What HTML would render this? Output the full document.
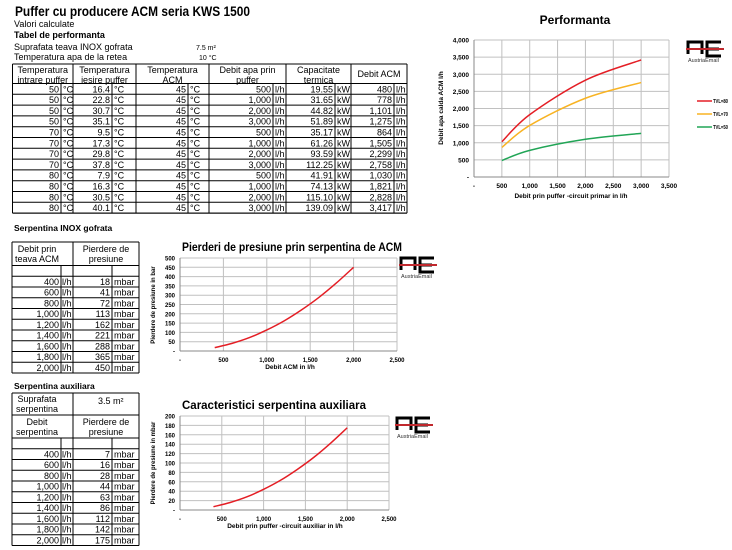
<!DOCTYPE html><html><head><meta charset="utf-8"><style>body{margin:0;background:#fff}svg{display:block;font-family:"Liberation Sans",Arial,sans-serif}</style></head><body>
<svg id="s" width="732" height="550" xmlns="http://www.w3.org/2000/svg"></svg>
<script>
var S=document.getElementById('s'),NS='http://www.w3.org/2000/svg';
function el(n,a,t){var e=document.createElementNS(NS,n);for(var k in a)e.setAttribute(k,a[k]);if(t!==undefined)e.textContent=t;S.appendChild(e);return e}
function T(x,y,t,sz,o){o=o||{};var a={x:x,y:y,'font-size':sz||9,fill:o.fill||'#000'};if(o.b)a['font-weight']='bold';if(o.a)a['text-anchor']=o.a;if(o.tl){a.textLength=o.tl;a.lengthAdjust='spacingAndGlyphs'}return el('text',a,t)}
function L(x1,y1,x2,y2,c,w){el('line',{x1:x1,y1:y1,x2:x2,y2:y2,stroke:c||'#000','stroke-width':w||1})}
function fmt(n){return n.toString().replace(/\B(?=(\d{3})+(?!\d))/g,',')}
T(15,16,'Puffer cu producere ACM seria KWS 1500',13.5,{b:1,tl:235});
T(14,27,'Valori calculate',9);
T(14,38,'Tabel  de performanta',9,{b:1});
T(14,50,'Suprafata teava INOX gofrata',9);
T(196,50,'7.5  m²',7);
T(14,60,'Temperatura apa de la retea',9);
T(199,60,'10  °C',7);
var B=[12.5,61,73,112,136,188,209,273,286,335,351,394,407];
var rows=[[50,16.4,45,500,'19.55',480],[50,22.8,45,1000,'31.65',778],[50,30.7,45,2000,'44.82',1101],[50,35.1,45,3000,'51.89',1275],[70,9.5,45,500,'35.17',864],[70,17.3,45,1000,'61.26',1505],[70,29.8,45,2000,'93.59',2299],[70,37.8,45,3000,'112.25',2758],[80,7.9,45,500,'41.91',1030],[80,16.3,45,1000,'74.13',1821],[80,30.5,45,2000,'115.10',2828],[80,40.1,45,3000,'139.09',3417]];
var units=['°C','°C','°C','l/h','kW','l/h'];
var y0=64,yh=83.5,rh=10.8,yb=yh+12*rh;
L(B[0],y0,B[12],y0);L(B[0],yb,B[12],yb);
for(var i=0;i<=12;i++){if(i%2==0)L(B[i],y0,B[i],yb);else L(B[i],yh,B[i],yb)}
for(var r=0;r<=12;r++)L(B[0],yh+r*rh,B[12],yh+r*rh);
var H=[['Temperatura','intrare puffer'],['Temperatura','iesire puffer'],['Temperatura','ACM'],['Debit apa prin','puffer'],['Capacitate','termica'],['Debit ACM']];
for(var c=0;c<6;c++){var cx=(B[2*c]+B[2*c+2])/2;if(H[c].length==2){T(cx,73,H[c][0],9,{a:'middle'});T(cx,83,H[c][1],9,{a:'middle'})}else T(cx,77,H[c][0],9,{a:'middle'})}
rows.forEach(function(rw,r){var y=yh+(r+1)*rh-2;rw.forEach(function(v,c){var s=(c==3||c==5)?fmt(v):(c==1?v.toFixed(1):String(v));T(B[2*c+1]-2,y,s,9,{a:'end'});T(B[2*c+1]+2,y,units[c],9)})});
function smallTable(top,hdrRows,blankTop,data){
 var rt=blankTop+10.7,rh=10.75,bot=rt+9*rh;
 L(12,top,139,top);L(12,bot,139,bot);L(12,top,12,bot);L(139,top,139,bot);L(73,top,73,bot);
 L(61,blankTop,61,bot);L(112,blankTop,112,bot);
 hdrRows.forEach(function(h){L(12,h,139,h)});L(12,blankTop,139,blankTop);
 for(var i=0;i<=9;i++)L(12,rt+i*rh,139,rt+i*rh);
 data.forEach(function(d,i){var y=rt+(i+1)*rh-2;T(59,y,fmt(d[0]),9,{a:'end'});T(62,y,'l/h',9);T(110,y,String(d[1]),9,{a:'end'});T(114,y,'mbar',9)});
}
T(14,231,'Serpentina INOX gofrata',8.5,{b:1});
var d2=[[400,18],[600,41],[800,72],[1000,113],[1200,162],[1400,221],[1600,288],[1800,365],[2000,450]];
smallTable(242,[],265.5,d2);
T(37,252,'Debit prin',9,{a:'middle'});T(37,262,'teava ACM',9,{a:'middle'});
T(106,252,'Pierdere de',9,{a:'middle'});T(106,262,'presiune',9,{a:'middle'});
T(14,389,'Serpentina auxiliara',8.5,{b:1});
var d3=[[400,7],[600,16],[800,28],[1000,44],[1200,63],[1400,86],[1600,112],[1800,142],[2000,175]];
smallTable(393,[415],438,d3);
T(37,402,'Suprafata',9,{a:'middle'});T(37,412,'serpentina',9,{a:'middle'});
T(98,404,'3.5  m²',9);
T(37,425,'Debit',9,{a:'middle'});T(37,435,'serpentina',9,{a:'middle'});
T(106,425,'Pierdere de',9,{a:'middle'});T(106,435,'presiune',9,{a:'middle'});
function path(pts,px,py,col){
 var P=pts.map(function(p){return [px(p[0]),py(p[1])]});var d='M'+P[0][0]+','+P[0][1];
 for(var i=0;i<P.length-1;i++){var p0=P[i-1]||P[i],p1=P[i],p2=P[i+1],p3=P[i+2]||p2;
  d+=' C'+(p1[0]+(p2[0]-p0[0])/6)+','+(p1[1]+(p2[1]-p0[1])/6)+' '+(p2[0]-(p3[0]-p1[0])/6)+','+(p2[1]-(p3[1]-p1[1])/6)+' '+p2[0]+','+p2[1]}
 el('path',{d:d,fill:'none',stroke:col,'stroke-width':1.5});
}
function grid(x0,x1,y0,y1,xs,ys,fs){
 for(var i=0;i<xs.length;i++){var x=x0+(x1-x0)*i/(xs.length-1);L(x,y0,x,y1,'#c0c0c0');T(x,y1+11,xs[i],fs,{a:'middle',b:1})}
 for(var j=0;j<ys.length;j++){var y=y1-(y1-y0)*j/(ys.length-1);L(x0,y,x1,y,'#c0c0c0');T(x0-5,y+2.5,ys[j],fs,{a:'end',b:1})}
 L(x0,y0,x0,y1,'#888');L(x0,y1,x1,y1,'#888');
}
function logo(x,y){el('rect',{x:x,y:y,width:14,height:14,fill:'none',stroke:'#000','stroke-width':3});el('rect',{x:x-1.5,y:y+12,width:17,height:4,fill:'#fff'});
 el('path',{d:'M'+(x+33)+','+y+' h-14 v14 h14 M'+(x+19)+','+(y+7)+' h12',fill:'none',stroke:'#000','stroke-width':3});
 L(x-2,y+7,x+36,y+7,'#c0282d',2);T(x,y+20,'AustriaEmail',5.5,{fill:'#333'})}
T(575,24,'Performanta',12,{a:'middle',b:1});
grid(474,669,40,177,['-','500','1,000','1,500','2,000','2,500','3,000','3,500'],['-','500','1,000','1,500','2,000','2,500','3,000','3,500','4,000'],6.5);
var px1=function(x){return 474+x/3500*195},py1=function(y){return 177-y/4000*137};
path([[500,1030],[1000,1821],[2000,2828],[3000,3417]],px1,py1,'#e41e25');
path([[500,864],[1000,1505],[2000,2299],[3000,2758]],px1,py1,'#f8b323');
path([[500,480],[1000,778],[2000,1101],[3000,1275]],px1,py1,'#21a556');
T(571,198,'Debit prin puffer -circuit primar in l/h',6.5,{a:'middle',b:1});
var t=T(0,0,'Debit apa calda ACM l/h',6.5,{a:'middle',b:1});t.setAttribute('transform','translate(443,108) rotate(-90)');
[['#e41e25','TVL=80',101],['#f8b323','TVL=70',114],['#21a556','TVL=50',127]].forEach(function(l){L(697,l[2],712,l[2],l[0],1.5);T(713,l[2]+2,l[1],5.5,{b:1,tl:15})});
logo(688,42);
T(292,251,'Pierderi de presiune prin serpentina de ACM',11.5,{a:'middle',b:1,tl:220});
grid(180,397,258,351,['-','500','1,000','1,500','2,000','2,500'],['-','50','100','150','200','250','300','350','400','450','500'],6);
var px2=function(x){return 180+x/2500*217},py2=function(y){return 351-y/500*93};
path(d2,px2,py2,'#e41e25');
T(290,369,'Debit ACM in l/h',6.5,{a:'middle',b:1});
t=T(0,0,'Pierdere de presiune in bar',6,{a:'middle',b:1});t.setAttribute('transform','translate(155,305) rotate(-90)');
logo(401,258);
T(274,409,'Caracteristici serpentina auxiliara',11.5,{a:'middle',b:1,tl:184});
grid(180,389,416,510,['-','500','1,000','1,500','2,000','2,500'],['-','20','40','60','80','100','120','140','160','180','200'],6);
var px3=function(x){return 180+x/2500*209},py3=function(y){return 510-y/200*94};
path(d3,px3,py3,'#e41e25');
T(285,528,'Debit prin puffer -circuit auxiliar in l/h',6.5,{a:'middle',b:1});
t=T(0,0,'Pierdere de presiune in mbar',6,{a:'middle',b:1});t.setAttribute('transform','translate(155,463) rotate(-90)');
logo(397,418);
</script></body></html>
